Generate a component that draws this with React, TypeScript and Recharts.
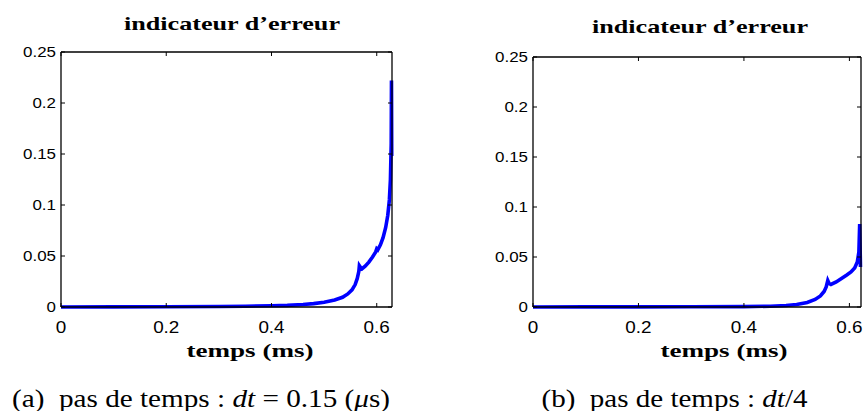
import React from 'react';
import { LineChart, Line, XAxis, YAxis } from 'recharts';

// (a) pas de temps dt = 0.15 us
const timesA = [
  0, 0.1, 0.2, 0.3, 0.35, 0.4, 0.43, 0.46, 0.48, 0.5, 0.52, 0.535, 0.545, 0.553, 0.559,
  0.563, 0.566, 0.567, 0.569, 0.572, 0.578, 0.585, 0.592, 0.598, 0.6, 0.602, 0.607, 0.612,
  0.617, 0.621, 0.624, 0.626, 0.6275, 0.628, 0.6285,
];
const errA = [
  0, 0.0001, 0.0002, 0.0005, 0.0008, 0.0012, 0.0016, 0.0024, 0.0033, 0.0047, 0.0068, 0.0095,
  0.0128, 0.0168, 0.022, 0.028, 0.035, 0.0405, 0.039, 0.0375, 0.04, 0.044, 0.049, 0.054,
  0.057, 0.056, 0.061, 0.068, 0.078, 0.09, 0.105, 0.125, 0.16, 0.222, 0.148,
];

// (b) pas de temps dt/4
const timesB = [
  0, 0.1, 0.2, 0.3, 0.4, 0.45, 0.48, 0.5, 0.52, 0.535, 0.545, 0.552, 0.556, 0.559, 0.5615,
  0.565, 0.575, 0.585, 0.595, 0.603, 0.61, 0.615, 0.618, 0.6195, 0.621,
];
const errB = [
  0, 0.0001, 0.0001, 0.0002, 0.0004, 0.0008, 0.0015, 0.0025, 0.0045, 0.0075, 0.011, 0.0155,
  0.02, 0.0265, 0.0235, 0.0225, 0.025, 0.0285, 0.032, 0.035, 0.039, 0.045, 0.055, 0.083, 0.04,
];

const xTicks = [0, 0.2, 0.4, 0.6];
const yTicks = [0, 0.05, 0.1, 0.15, 0.2, 0.25];
const titleText = 'indicateur d’erreur';
const xLabelText = 'temps (ms)';

const sans = '"Liberation Sans", Arial, Helvetica, sans-serif';
const serif = '"Liberation Serif", "Times New Roman", serif';

// matlab-ish tick labels, slightly wide like the original export
const YTick = (props: any) => {
  const { x, y, payload } = props;
  return (
    <text
      transform={`translate(${x},${y}) scale(1.13,1)`}
      textAnchor="end"
      dy="0.36em"
      fontSize={15}
      fontFamily={sans}
      fill="#000"
    >
      {String(payload.value)}
    </text>
  );
};

const XTick = (props: any) => {
  const { x, y, payload } = props;
  return (
    <text
      transform={`translate(${x},${y}) scale(1.18,1)`}
      textAnchor="middle"
      y={26}
      fontSize={16}
      fontFamily={sans}
      fill="#000"
    >
      {String(payload.value)}
    </text>
  );
};

const NoTick = () => <g />;

interface PanelProps {
  times: number[];
  values: number[];
  xMax: number;
  width: number;
  yWidth: number;
  top: number;
  right: number;
}

function ErrorPanel({ times, values, xMax, width, yWidth, top, right }: PanelProps) {
  const data = times.map((t, i) => ({ t, v: values[i] }));
  const axisLine = { stroke: '#000', strokeWidth: 1.3 };
  return (
    <LineChart width={width} height={411} data={data} margin={{ top, right, left: 0, bottom: 0 }}>
      <XAxis
        xAxisId="bottom"
        dataKey="t"
        type="number"
        domain={[0, xMax]}
        ticks={xTicks}
        height={104}
        axisLine={axisLine}
        tickLine={{ stroke: '#000' }}
        tickSize={-4}
        tickMargin={4}
        tick={<XTick />}
      />
      <XAxis
        xAxisId="top"
        orientation="top"
        dataKey="t"
        type="number"
        domain={[0, xMax]}
        ticks={xTicks}
        height={1}
        axisLine={axisLine}
        tickLine={{ stroke: '#000' }}
        tickSize={-4}
        tick={<NoTick />}
      />
      <YAxis
        yAxisId="left"
        type="number"
        domain={[0, 0.25]}
        ticks={yTicks}
        width={yWidth}
        axisLine={axisLine}
        tickLine={{ stroke: '#000' }}
        tickSize={-4}
        tickMargin={9}
        tick={<YTick />}
      />
      <YAxis
        yAxisId="right"
        orientation="right"
        type="number"
        domain={[0, 0.25]}
        ticks={yTicks}
        width={1}
        axisLine={axisLine}
        tickLine={{ stroke: '#000' }}
        tickSize={-4}
        tick={<NoTick />}
      />
      {/* invisible twin so the top/right frame axes get drawn */}
      <Line
        xAxisId="top"
        yAxisId="right"
        type="linear"
        dataKey="v"
        stroke="none"
        dot={false}
        activeDot={false}
        isAnimationActive={false}
      />
      <Line
        xAxisId="bottom"
        yAxisId="left"
        type="linear"
        dataKey="v"
        stroke="#0000ff"
        strokeWidth={3.6}
        dot={false}
        isAnimationActive={false}
      />
    </LineChart>
  );
}

export default function App() {
  return (
    <div style={{ position: 'absolute', left: 0, top: 0, width: 865, height: 411, background: '#fff', overflow: 'hidden' }}>
      <div style={{ position: 'absolute', left: 0, top: 0 }}>
        <ErrorPanel times={timesA} values={errA} xMax={0.629} width={440} yWidth={61} top={51} right={47} />
      </div>
      <div style={{ position: 'absolute', left: 440, top: 0 }}>
        <ErrorPanel times={timesB} values={errB} xMax={0.622} width={425} yWidth={93} top={56} right={3} />
      </div>

      <svg width={865} height={411} style={{ position: 'absolute', left: 0, top: 0, pointerEvents: 'none' }}>
        <g fontFamily={serif} fill="#000">
          <text x={232} y={29.5} textAnchor="middle" fontWeight="bold" fontSize={19.5} textLength={216} lengthAdjust="spacingAndGlyphs">
            {titleText}
          </text>
          <text x={700} y={33} textAnchor="middle" fontWeight="bold" fontSize={19.5} textLength={216} lengthAdjust="spacingAndGlyphs">
            {titleText}
          </text>
          <text x={250} y={357} textAnchor="middle" fontWeight="bold" fontSize={19.5} textLength={127} lengthAdjust="spacingAndGlyphs">
            {xLabelText}
          </text>
          <text x={724} y={357} textAnchor="middle" fontWeight="bold" fontSize={19.5} textLength={127} lengthAdjust="spacingAndGlyphs">
            {xLabelText}
          </text>
          <text x={201} y={406.5} textAnchor="middle" fontSize={25} textLength={378} lengthAdjust="spacingAndGlyphs">
            (a){'\u2002'}pas de temps : <tspan fontStyle="italic">dt</tspan> = 0.15 (<tspan fontStyle="italic">μ</tspan>s)
          </text>
          <text x={674.5} y={406.5} textAnchor="middle" fontSize={25} textLength={266} lengthAdjust="spacingAndGlyphs">
            (b){'\u2002'}pas de temps : <tspan fontStyle="italic">dt</tspan>/4
          </text>
        </g>
      </svg>
    </div>
  );
}
